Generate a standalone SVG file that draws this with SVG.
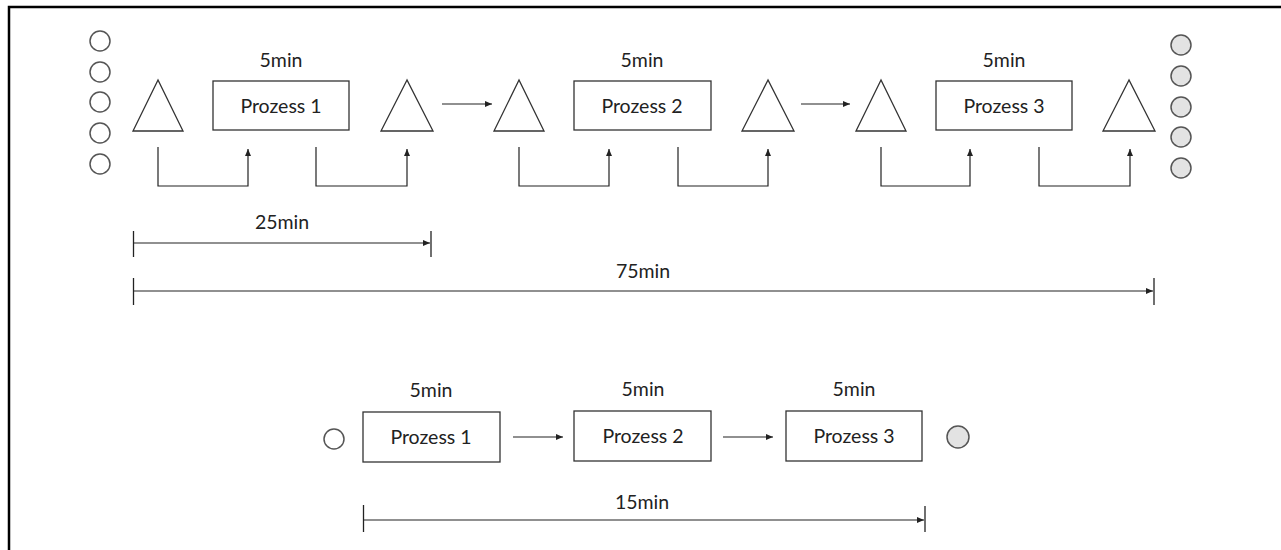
<svg xmlns="http://www.w3.org/2000/svg" width="1281" height="550" viewBox="0 0 1281 550">
  <style>
    .frame { stroke: #000; stroke-width: 2.5; fill: none; }
    .box { fill: #fff; stroke: #333; stroke-width: 1.3; }
    .tri { fill: #fff; stroke: #333; stroke-width: 1.3; stroke-linejoin: miter; }
    .src { fill: #fff; stroke: #555; stroke-width: 1.5; }
    .sink { fill: #e3e3e3; stroke: #555; stroke-width: 1.5; }
    .conn { fill: none; stroke: #222; stroke-width: 1.2; }
    .tick { fill: none; stroke: #222; stroke-width: 1.3; }
    text { font-family: Lato, "Open Sans", sans-serif; font-size: 19.5px; fill: #222; text-anchor: middle; }
  </style>
  <defs>
    <marker id="arrow" markerUnits="userSpaceOnUse" markerWidth="7" markerHeight="6" refX="7" refY="3" orient="auto">
      <path d="M0,0 L7,3 L0,6 z" fill="#222"/>
    </marker>
  </defs>

  <rect width="1281" height="550" fill="#fff"/>

  <!-- frame -->
  <path class="frame" d="M9,550 V7 H1281"/>

  <!-- raw material stock -->
  <g id="input-stock">
    <circle class="src" cx="100" cy="41" r="10"/>
    <circle class="src" cx="100" cy="72" r="10"/>
    <circle class="src" cx="100" cy="102" r="10"/>
    <circle class="src" cx="100" cy="133" r="10"/>
    <circle class="src" cx="100" cy="164" r="10"/>
  </g>

  <!-- finished goods stock -->
  <g id="output-stock">
    <circle class="sink" cx="1181" cy="45" r="10"/>
    <circle class="sink" cx="1181" cy="76" r="10"/>
    <circle class="sink" cx="1181" cy="107" r="10"/>
    <circle class="sink" cx="1181" cy="137" r="10"/>
    <circle class="sink" cx="1181" cy="168" r="10"/>
  </g>

  <!-- buffers -->
  <g id="buffer-1"><polygon class="tri" points="158,80 133,131 183,131"/></g>
  <g id="buffer-2"><polygon class="tri" points="407,80 381,131 433,131"/></g>
  <g id="buffer-3"><polygon class="tri" points="519,80 494,131 544,131"/></g>
  <g id="buffer-4"><polygon class="tri" points="768,80 742,131 794,131"/></g>
  <g id="buffer-5"><polygon class="tri" points="881,80 856,131 906,131"/></g>
  <g id="buffer-6"><polygon class="tri" points="1129,80 1103,131 1155,131"/></g>

  <!-- batch processes -->
  <g id="batch-process-1">
    <text x="281" y="67">5min</text>
    <rect class="box" x="213" y="81" width="136" height="49"/>
    <text x="281" y="113">Prozess 1</text>
  </g>
  <g id="batch-process-2">
    <text x="642" y="67">5min</text>
    <rect class="box" x="574" y="81" width="137" height="49"/>
    <text x="642" y="113">Prozess 2</text>
  </g>
  <g id="batch-process-3">
    <text x="1004" y="67">5min</text>
    <rect class="box" x="936" y="81" width="136" height="49"/>
    <text x="1004" y="113">Prozess 3</text>
  </g>

  <!-- single-piece flow -->
  <g id="flow-input"><circle class="src" cx="334" cy="439" r="10"/></g>
  <g id="flow-process-1">
    <text x="431" y="397">5min</text>
    <rect class="box" x="363" y="412" width="137" height="50"/>
    <text x="431" y="444">Prozess 1</text>
  </g>
  <g id="flow-process-2">
    <text x="643" y="396">5min</text>
    <rect class="box" x="574" y="411" width="137" height="50"/>
    <text x="643" y="443">Prozess 2</text>
  </g>
  <g id="flow-process-3">
    <text x="854" y="396">5min</text>
    <rect class="box" x="786" y="411" width="136" height="50"/>
    <text x="854" y="443">Prozess 3</text>
  </g>
  <g id="flow-output"><circle class="sink" cx="958" cy="437" r="11"/></g>

  <!-- lead time dimensions -->
  <g id="lead-time-25">
    <text x="282" y="229">25min</text>
    <line class="tick" x1="133.5" y1="231" x2="133.5" y2="257"/>
    <line class="tick" x1="431" y1="231" x2="431" y2="257"/>
    <line class="conn" x1="133.5" y1="243" x2="430" y2="243" marker-end="url(#arrow)"/>
  </g>
  <g id="lead-time-75">
    <text x="643" y="278">75min</text>
    <line class="tick" x1="133.5" y1="278" x2="133.5" y2="305"/>
    <line class="tick" x1="1154" y1="278" x2="1154" y2="305"/>
    <line class="conn" x1="133.5" y1="291" x2="1153" y2="291" marker-end="url(#arrow)"/>
  </g>
  <g id="lead-time-15">
    <text x="642" y="509">15min</text>
    <line class="tick" x1="363.5" y1="505" x2="363.5" y2="532"/>
    <line class="tick" x1="925" y1="506" x2="925" y2="532"/>
    <line class="conn" x1="363.5" y1="520" x2="924" y2="520" marker-end="url(#arrow)"/>
  </g>

  <!-- connectors -->
  <g id="connectors">
    <line class="conn" x1="442" y1="104" x2="492" y2="104" marker-end="url(#arrow)"/>
    <line class="conn" x1="801" y1="104" x2="850" y2="104" marker-end="url(#arrow)"/>
    <path class="conn" d="M158,147 V186 H248 V149" marker-end="url(#arrow)"/>
    <path class="conn" d="M316,147 V186 H407 V149" marker-end="url(#arrow)"/>
    <path class="conn" d="M519,147 V186 H609 V149" marker-end="url(#arrow)"/>
    <path class="conn" d="M678,147 V186 H768 V149" marker-end="url(#arrow)"/>
    <path class="conn" d="M881,147 V186 H970 V149" marker-end="url(#arrow)"/>
    <path class="conn" d="M1039,147 V186 H1130 V149" marker-end="url(#arrow)"/>
    <line class="conn" x1="513" y1="437" x2="563" y2="437" marker-end="url(#arrow)"/>
    <line class="conn" x1="723" y1="437" x2="773" y2="437" marker-end="url(#arrow)"/>
  </g>
</svg>
